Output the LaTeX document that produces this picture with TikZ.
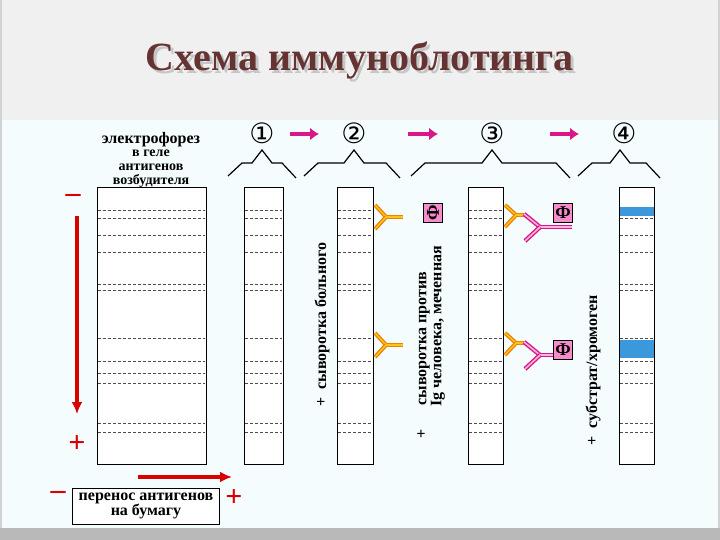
\documentclass[tikz,border=0pt]{standalone}
\usepackage{fontspec}
\setmainfont{Liberation Serif}
\newfontfamily\dejavu{DejaVu Sans}
\usetikzlibrary{arrows.meta}
\newcommand\smallgl{\fontsize{14}{12}\selectfont}
\begin{document}
\begin{tikzpicture}[x=1pt,y=-1pt,
  strip/.style={draw=black,line width=1pt,fill=white},
  band/.style={densely dashed,line width=0.4pt,draw=black!70},
  brace/.style={draw=black,line width=1.2pt,line join=miter},
  marr/.style={draw=magenta!80!violet,line width=4pt,-{Latex[length=9pt,width=13pt]}},
  rarr/.style={draw=red!85!black,line width=3.5pt,-{Latex[length=12pt,width=11pt]}},
  sign/.style={text=red!85!black,font=\bfseries\fontsize{30}{30}\selectfont},
  lab/.style={font=\bfseries\fontsize{16}{15}\selectfont},
  fbox/.style={draw=black,fill=magenta!45,minimum size=19pt,inner sep=0pt,font=\bfseries\fontsize{18}{18}\selectfont},
  abo/.style={draw=orange!70!brown,line width=1.3pt,double=yellow!60!orange,double distance=1.4pt},
  abm/.style={draw=magenta!80!violet,line width=1.4pt,double=magenta!30,double distance=1.6pt}]
\fill[gray!35] (0,0) rectangle (720,540);
\fill[gray!12] (2,0) rectangle (718,120);
\fill[cyan!4!white] (2,120) rectangle (718,528);
\fill[gray!55] (0,528) rectangle (720,540);
\node[font=\bfseries\fontsize{40}{40}\selectfont,text=gray!45] (shadow) at (363,64) {Схема иммуноблотинга};
\node[font=\bfseries\fontsize{40}{40}\selectfont,text=red!25!black!80] (title) at (360,61) {Схема иммуноблотинга};
% gel label
\node[lab,align=center,inner sep=0pt] (gl) at (151,160) {электрофорез\\[-2pt]\smallgl в геле\\[-1pt]\smallgl антигенов\\[-1pt]\smallgl возбудителя};
% strips
\foreach \n/\xa/\xb in {g/97/206,s1/244/283,s2/337/373,s3/468/503,s4/619/654}{
  \draw[strip] (\xa,188) rectangle (\xb,464);
  \node[inner sep=0pt] (\n) at ({(\xa+\xb)/2},326) {};
  \foreach \y in {210,218,235,252,284,290,338,361,373,383,423,432}
    \draw[band] (\xa+1,\y) -- (\xb-1,\y);
}
\fill[cyan!70!blue!80] (619.5,207) rectangle (653.5,216);
\fill[cyan!70!blue!80] (619.5,340) rectangle (653.5,358);
% numbers
\foreach \n/\x in {1/262,2/354,3/492,4/624}
  \node[font=\dejavu\fontsize{28}{28}\selectfont] (n\n) at (\x,133) {\ifcase\n\or ①\or ②\or ③\or ④\fi};
\draw[marr] (290,134) -- (319,134);
\draw[marr] (408,134) -- (438,134);
\draw[marr] (550,134) -- (579,134);
% braces
\foreach \a/\c/\b in {228/262/296,304/354/400,411/492/570,578/620/660}
  \draw[brace] (\a,176) -- (\a+14,163) -- (\c-10,163) -- (\c,150) -- (\c+10,163) -- (\b-14,163) -- (\b,178);
% antibodies
\foreach \y in {217,345}{
  \draw[abo] (375,\y-12) -- (386,\y);
  \draw[abo] (375,\y+12) -- (386,\y);
  \draw[abo] (386,\y) -- (403,\y);
  \draw[abo] (505,\y-12) -- (516,\y-2);
  \draw[abo] (505,\y+10) -- (516,\y-2);
  \draw[abo] (516,\y-2) -- (524,\y-2);
  \draw[abm] (524,\y-3) -- (540,\y+10);
  \draw[abm] (540,\y+10) -- (572,\y+10);
  \draw[abm] (540,\y+10) -- (525,\y+24);
}
\node[fbox] (f1) at (433,213) {\rotatebox{90}{Ф}};
\node[fbox] (f2) at (563,213) {Ф};
\node[fbox] (f3) at (563,350) {Ф};
% vertical texts
\node[lab,rotate=90,anchor=west] (t2) at (322,410) {+\ \ сыворотка больного};
\node[lab,rotate=90,anchor=west,align=left] (t3) at (431,442) {+\ \ \ \ \ \ сыворотка против\\\ \ \ \ \ \ \ \ Ig человека, меченная};
\node[lab,rotate=90,anchor=west] (t4) at (593,449) {+\ \ субстрат/хромоген};
% red signs and arrows
\node[sign] (m1) at (73,198) {–};
\node[sign] (p1) at (77,444) {+};
\coordinate (a1) at (77,216);
\coordinate (a2) at (77,414);
\draw[rarr] (a1) -- (a2);
\node[sign] (m2) at (58,495) {–};
\node[sign] (p2) at (234,498) {+};
\coordinate (b1) at (138,477);
\coordinate (b2) at (232,477);
\draw[rarr] (b1) -- (b2);
\node[draw=black,line width=0.8pt,fill=white,lab,align=center,minimum width=147pt,minimum height=36pt,inner sep=1pt] (tr) at (146,506) {перенос антигенов\\на бумагу};
\end{tikzpicture}
\end{document}
